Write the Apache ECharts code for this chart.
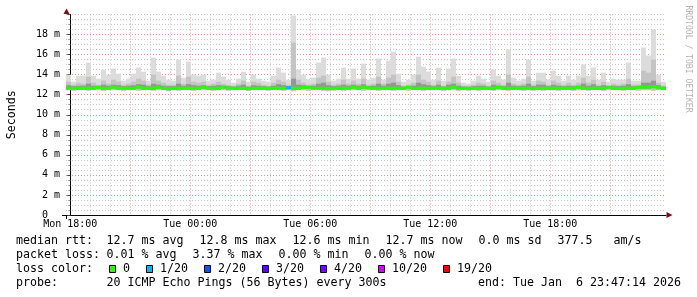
<!DOCTYPE html>
<html><head><meta charset="utf-8">
<script src="https://cdn.jsdelivr.net/npm/echarts@6/dist/echarts.min.js"></script>
<style>html,body{margin:0;padding:0;background:#fff}#c{width:697px;height:297px}</style>
</head><body><div id="c"></div>
<script>
// ---- time axis (hours relative to Mon 18:00) ----
const startHour = -0.2127, endHour = 29.7873, stepHours = 0.25;
const tickHours = [0, 6, 12, 18, 24];
const tickLabels = ['Mon 18:00', 'Tue 00:00', 'Tue 06:00', 'Tue 12:00', 'Tue 18:00'];
const yTicks = [0, 2, 4, 6, 8, 10, 12, 14, 16, 18, 20];

// ---- smoke (ms) per 15-minute bin ----
const smokeMax = [14.0,13.3,13.9,13.9,15.2,13.9,13.6,14.5,14.0,14.6,
 14.1,13.4,13.6,14.1,14.7,14.3,13.4,15.7,14.3,13.9,
 13.5,13.4,15.5,13.7,15.3,14.0,13.9,14.0,13.4,13.5,
 14.2,13.8,13.5,13.2,13.6,14.3,13.3,14.0,13.6,13.4,
 13.3,13.9,14.7,14.2,13.5,19.9,14.5,14.0,13.5,13.7,
 15.2,15.7,14.0,13.4,13.6,14.7,13.6,14.6,13.6,15.1,
 13.5,13.7,15.6,13.5,15.4,16.3,14.1,13.3,13.5,14.0,
 15.8,14.8,14.3,13.5,14.7,13.4,14.6,15.6,13.9,13.2,
 13.1,13.4,13.9,13.6,13.3,14.5,13.9,13.5,16.5,13.7,
 13.4,13.6,15.5,13.4,14.2,14.2,13.5,14.4,13.9,13.4,
 13.9,13.5,13.9,15.0,13.9,14.7,13.5,14.2,13.3,13.6,
 13.5,13.5,15.2,13.4,13.4,16.7,15.9,18.5,14.0,13.3];
const smokeMid = [13.3,13.0,13.2,13.1,13.8,13.2,13.0,13.4,13.1,13.5,
 13.3,13.0,13.1,13.3,13.6,13.4,13.0,14.0,13.4,13.2,
 13.0,13.0,13.9,13.1,13.8,13.3,13.2,13.3,13.0,13.1,
 13.3,13.1,13.0,12.9,13.1,13.4,12.9,13.3,13.2,13.0,
 12.9,13.2,13.5,13.3,13.0,17.2,13.5,13.2,13.0,13.1,
 13.7,13.9,13.3,13.0,13.1,13.5,13.1,13.4,13.1,13.6,
 13.0,13.1,13.8,13.1,13.7,14.0,13.3,12.9,13.0,13.2,
 14.0,13.5,13.3,13.0,13.4,12.9,13.3,13.8,13.2,12.9,
 12.9,13.0,13.2,13.1,12.9,13.4,13.2,13.0,14.0,13.1,
 13.0,13.1,13.8,13.0,13.4,13.3,13.0,13.4,13.2,13.0,
 13.2,13.0,13.2,13.7,13.2,13.5,13.0,13.3,12.9,13.1,
 13.0,13.1,13.6,13.0,13.0,14.4,14.2,15.5,13.2,12.9];
const smokeDark = [12.95,12.85,12.9,12.9,13.1,12.9,12.85,13.0,12.9,13.0,
 12.95,12.85,12.9,12.95,13.05,13.0,12.85,13.1,13.0,12.9,
 12.85,12.85,13.1,12.9,13.05,12.95,12.9,12.95,12.85,12.9,
 12.95,12.9,12.85,12.8,12.9,13.0,12.8,12.95,12.9,12.85,
 12.8,12.9,13.05,12.95,12.85,13.6,13.0,12.95,12.85,12.9,
 13.1,13.2,12.95,12.85,12.9,13.0,12.9,13.0,12.9,13.05,
 12.85,12.9,13.1,12.9,13.1,13.2,12.95,12.8,12.85,12.9,
 13.2,13.05,12.95,12.85,13.0,12.8,13.0,13.1,12.9,12.8,
 12.8,12.85,12.9,12.9,12.8,13.0,12.9,12.85,13.2,12.9,
 12.85,12.9,13.1,12.85,13.0,13.0,12.85,13.0,12.9,12.85,
 12.9,12.85,12.9,13.1,12.9,13.05,12.85,12.95,12.8,12.9,
 12.85,12.9,13.05,12.85,12.85,13.2,13.2,13.4,12.95,12.8];
const smokeLo = [12.45,12.4,12.45,12.45,12.4,12.45,12.45,12.4,12.45,12.45,
 12.45,12.4,12.45,12.45,12.4,12.45,12.45,12.4,12.45,12.45,
 12.35,12.45,12.4,12.45,12.45,12.4,12.45,12.45,12.45,12.4,
 12.45,12.45,12.4,12.45,12.45,12.45,12.4,12.45,12.45,12.45,
 12.4,12.45,12.45,12.4,12.45,12.35,12.45,12.45,12.4,12.45,
 12.45,12.4,12.35,12.45,12.45,12.4,12.45,12.45,12.45,12.4,
 12.45,12.45,12.4,12.45,12.45,12.4,12.45,12.45,12.4,12.45,
 12.45,12.4,12.45,12.45,12.45,12.4,12.45,12.45,12.4,12.45,
 12.45,12.45,12.4,12.45,12.45,12.4,12.45,12.45,12.4,12.45,
 12.45,12.4,12.45,12.45,12.45,12.4,12.45,12.45,12.4,12.45,
 12.45,12.4,12.45,12.45,12.4,12.45,12.45,12.4,12.45,12.45,
 12.45,12.4,12.45,12.45,12.4,12.45,12.45,12.4,12.45,12.45];
const medianRtt = [12.65,12.65,12.65,12.65,12.65,12.65,12.75,12.65,12.65,12.75,
 12.65,12.65,12.65,12.65,12.75,12.65,12.65,12.65,12.75,12.65,
 12.6,12.65,12.65,12.65,12.65,12.65,12.65,12.75,12.65,12.65,
 12.65,12.75,12.65,12.65,12.65,12.65,12.6,12.65,12.65,12.65,
 12.65,12.65,12.65,12.65,12.7,12.65,12.65,12.75,12.75,12.65,
 12.65,12.65,12.65,12.6,12.65,12.65,12.65,12.75,12.65,12.75,
 12.7,12.65,12.65,12.65,12.65,12.65,12.65,12.65,12.75,12.65,
 12.65,12.65,12.65,12.65,12.65,12.65,12.65,12.75,12.65,12.65,
 12.6,12.65,12.65,12.65,12.65,12.65,12.75,12.65,12.65,12.65,
 12.65,12.65,12.65,12.6,12.65,12.65,12.65,12.65,12.65,12.65,
 12.65,12.65,12.75,12.65,12.65,12.65,12.65,12.65,12.75,12.65,
 12.65,12.65,12.65,12.65,12.75,12.75,12.75,12.8,12.7,12.65];
const lossCount = [0,0,0,0,0,0,0,0,0,0, 0,0,0,0,0,0,0,0,0,0, 0,0,0,0,0,0,0,0,0,0,
 0,0,0,0,0,0,0,0,0,0, 0,0,0,0,1,0,0,0,0,0, 0,0,0,0,0,0,0,0,0,0,
 0,0,0,0,0,0,0,0,0,0, 0,0,0,0,0,0,0,0,0,0, 0,0,0,0,0,0,0,0,0,0,
 0,0,0,0,0,0,0,0,0,0, 0,0,0,0,0,0,0,0,0,0, 0,0,0,0,0,0,0,0,0,0];

// ---- legend ----
const lossLevels = [0, 1, 2, 3, 4, 10, 19];
const lossLabels = ['0', '1/20', '2/20', '3/20', '4/20', '10/20', '19/20'];
const lossColors = ['#26ff00', '#00b8ff', '#0059ff', '#5e00ff', '#7e00ff', '#dd00ff', '#ff0000'];
const medianStats = ['12.7 ms avg', '12.8 ms max', '12.6 ms min', '12.7 ms now', '0.0 ms sd', '377.5   am/s'];
const lossStats = ['0.01 % avg', '3.37 % max', '0.00 % min', '0.00 % now'];
const probeText = '20 ICMP Echo Pings (56 Bytes) every 300s';
const endText = 'end: Tue Jan  6 23:47:14 2026';

const MONO = '"DejaVu Sans Mono", monospace';
const RED = '#e69494', GREY = '#c6c6c6';

function lossColor(n) {
  let c = lossColors[0];
  for (let k = 0; k < lossLevels.length; k++) if (n >= lossLevels[k]) c = lossColors[k];
  return c;
}

const data = smokeMax.map((m, i) => [startHour + (i + 0.5) * stepHours,
  smokeLo[i], smokeMid[i], m, smokeDark[i], medianRtt[i], lossCount[i]]);

function renderSmoke(params, api) {
  const t = api.value(0);
  const x0 = api.coord([t - stepHours / 2, 0])[0];
  const x1 = api.coord([t + stepHours / 2, 0])[0];
  const yv = v => api.coord([t, v])[1];
  const rect = (a, b, fill) => ({ type: 'rect', shape: { x: x0, y: yv(b), width: x1 - x0, height: yv(a) - yv(b) }, style: { fill } });
  const med = api.value(5);
  const ym = yv(med);
  return { type: 'group', children: [
    rect(api.value(1), api.value(3), '#dcdcdc'),
    rect(api.value(1), api.value(2), '#c4c4c4'),
    rect(med - 0.15, api.value(4), '#969696'),
    { type: 'rect', shape: { x: x0, y: ym - 1.5, width: x1 - x0, height: 3 }, style: { fill: lossColor(api.value(6)) } }
  ]};
}

const hourTicks = [];
for (let h = 0; h <= 29; h++) hourTicks.push(h);
const xSplitColors = [RED, GREY, GREY];
const ySplitColors = yTicks.map(v => v === 20 ? GREY : RED);

// graphic decorations and legend text
const CW = 7, GLUE = 16;
const F = '11.63px ' + MONO;
const baseY = [245, 259, 273, 287];
const txt = (text, x, by) => ({ type: 'text', x, y: by - 4, style: { text, font: F, fill: '#000', verticalAlign: 'middle', align: 'left' } });
const row = (items, x0, by, out) => { let x = x0; items.forEach(s => { out.push(txt(s, x, by)); x += s.length * CW + GLUE; }); };
const g = [];
g.push(txt('median rtt:', 16, baseY[0]));
row(medianStats, 106.5, baseY[0], g);
g.push(txt('packet loss:', 16, baseY[1]));
row(lossStats, 106.5, baseY[1], g);
g.push(txt('loss color:', 16, baseY[2]));
const boxX = [109, 146, 204, 262, 320, 378, 443];
lossLabels.forEach((l, i) => {
  g.push({ type: 'rect', shape: { x: boxX[i] + 0.5, y: 265.5, width: 6, height: 7 }, style: { fill: lossColors[i], stroke: '#000', lineWidth: 1 } });
  g.push(txt(l, boxX[i] + 14, baseY[2]));
});
g.push(txt('probe:', 16, baseY[3]));
g.push(txt(probeText, 106.5, baseY[3]));
g.push({ type: 'text', x: 681, y: baseY[3] - 4, style: { text: endText, font: F, fill: '#000', verticalAlign: 'middle', align: 'right' } });
// watermark
g.push({ type: 'text', x: 688.5, y: 59, rotation: -Math.PI / 2, style: { text: 'RRDTOOL / TOBI OETIKER', font: '8.1px ' + MONO, fill: '#b4b4b4', align: 'center', verticalAlign: 'middle' } });
// axis arrows and overhangs
g.push({ type: 'polygon', shape: { points: [[63.5, 14], [69.5, 14], [66.5, 8.5]] }, style: { fill: '#7a0f0f' }, z: 100 });
g.push({ type: 'polygon', shape: { points: [[666.5, 212], [666.5, 218], [672.5, 215]] }, style: { fill: '#7a0f0f' }, z: 100 });
g.push({ type: 'line', shape: { x1: 62, y1: 215.5, x2: 66, y2: 215.5 }, style: { stroke: '#000', lineWidth: 1 }, z: 100 });
g.push({ type: 'line', shape: { x1: 66.5, y1: 215, x2: 66.5, y2: 219 }, style: { stroke: '#000', lineWidth: 1 }, z: 100 });

const chart = echarts.init(document.getElementById('c'), null, { renderer: 'canvas' });
chart.setOption({
  backgroundColor: '#fff',
  animation: false,
  grid: { left: 66, right: 31, top: 14.5, bottom: 82, containLabel: false, outerBoundsMode: 'none' },
  xAxis: {
    type: 'value', min: startHour, max: endHour,
    axisLine: { show: true, onZero: false, lineStyle: { color: '#000', width: 1 } },
    axisTick: { show: false, customValues: hourTicks },
    splitLine: { show: true, showMinLine: true, showMaxLine: false, lineStyle: { type: [1, 2], width: 1, color: xSplitColors } },
    axisLabel: { customValues: tickHours, formatter: v => tickLabels[tickHours.indexOf(v)], fontFamily: MONO, fontSize: 10, color: '#000', margin: 4 }
  },
  yAxis: {
    type: 'value', min: 0, max: 20, interval: 2,
    name: 'Seconds', nameLocation: 'middle', nameGap: 48, nameRotate: 90,
    nameTextStyle: { fontFamily: MONO, fontSize: 11.63, color: '#000' },
    axisLine: { show: true, lineStyle: { color: '#000', width: 1 } },
    axisTick: { show: true, length: 3, lineStyle: { color: '#444' } },
    minorTick: { show: true, splitNumber: 4, length: 2, lineStyle: { color: '#999' } },
    splitLine: { show: true, lineStyle: { type: [1, 2], width: 1, color: ySplitColors } },
    minorSplitLine: { show: true, lineStyle: { type: [1, 2], width: 1, color: GREY } },
    axisLabel: { showMaxLabel: false, formatter: v => v === 0 ? '0  ' : v + ' m', fontFamily: MONO, fontSize: 10, color: '#000', margin: 6 }
  },
  series: [{ type: 'custom', renderItem: renderSmoke, data, encode: { x: 0, y: 3 }, clip: false, z: 2 }],
  graphic: g
});
</script></body></html>
